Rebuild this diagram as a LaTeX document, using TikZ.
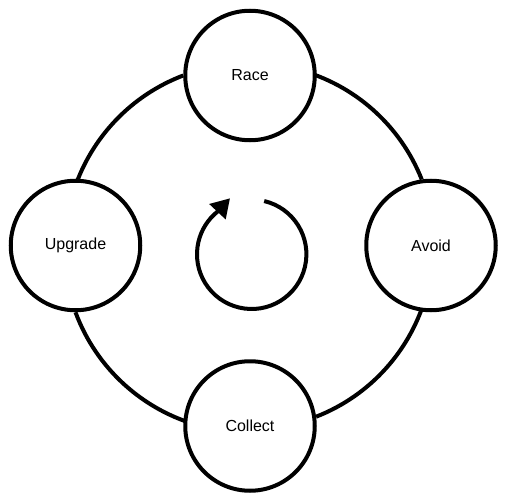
\documentclass[tikz,border=0pt]{standalone}
\usepackage{fontspec}
\setmainfont{Liberation Sans}
\usetikzlibrary{arrows.meta}
\begin{document}
\begin{tikzpicture}[x=1pt,y=-1pt,
  stage/.style={circle, draw=black, line width=4pt, fill=white, minimum size=129.5pt, inner sep=0pt, font=\fontsize{16}{19}\selectfont},
  ringline/.style={line width=4pt, draw=black},
  loopline/.style={line width=4pt, draw=black, -{Triangle[length=18.4pt,width=21.5pt]}}]
\useasboundingbox (0,0) rectangle (507,503);
% invisible placement of nodes first (for anchors)
\path (250,75.5) coordinate (raceC) (75.5,245.5) coordinate (upC)
      (431,245.5) coordinate (avC) (250,426) coordinate (colC);
\node[stage, draw=none, fill=none] (race0) at (raceC) {};
\node[stage, draw=none, fill=none] (upgrade0) at (upC) {};
\node[stage, draw=none, fill=none] (avoid0) at (avC) {};
\node[stage, draw=none, fill=none] (collect0) at (colC) {};
% ring connectors
\draw[ringline] (race0.west) arc[start angle=-110.8, end angle=-162, radius=183.5];
\draw[ringline] (upgrade0.south) arc[start angle=159.7, end angle=105, radius=183.5];
\draw[ringline] (collect0.8) arc[start angle=68.7, end angle=15, radius=183.5];
\draw[ringline] (avoid0.98) arc[start angle=-21.6, end angle=-75, radius=183.5];
% stage nodes
\node[stage] (race) at (raceC) {Race};
\node[stage] (upgrade) at (upC) {Upgrade};
\node[stage] (avoid) at (avC) {Avoid};
\node[stage] (collect) at (colC) {Collect};
% central cycle arrow
\coordinate (loopC) at (251.7,254.3);
\coordinate (loopTip) at (230,198.3);
\draw[loopline] ([shift={(-76.8:54.7)}]loopC) arc[start angle=-76.8, end angle=231.4, radius=54.7] -- (loopTip);
\end{tikzpicture}
\end{document}
